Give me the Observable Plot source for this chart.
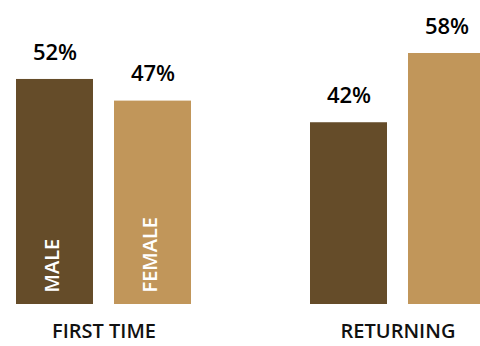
<!DOCTYPE html>
<html>
<head>
<meta charset="utf-8">
<script src="https://cdn.jsdelivr.net/npm/d3@7"></script>
<script src="https://cdn.jsdelivr.net/npm/@observablehq/plot@0.6"></script>
<style>
  html, body { margin: 0; padding: 0; background: #fff; overflow: hidden; }
</style>
</head>
<body>
<div id="chart"></div>
<script>
const groups = ["FIRST TIME", "RETURNING"];
const genders = ["MALE", "FEMALE"];
const barGroups = ["FIRST TIME", "FIRST TIME", "RETURNING", "RETURNING"];
const barGenders = ["MALE", "FEMALE", "MALE", "FEMALE"];
const values = [52, 47, 42, 58];
const innerLabels = ["MALE", "FEMALE", "", ""];
const colors = ["#654c29", "#c1965a"];

const data = values.map((v, i) => ({
  group: barGroups[i],
  gender: barGenders[i],
  value: v,
  label: v + "%",
  inner: innerLabels[i]
}));

const chart = Plot.plot({
  width: 480,
  height: 346,
  marginLeft: 15,
  marginRight: 0,
  marginTop: 0,
  marginBottom: 42,
  style: { fontFamily: "'Open Sans', sans-serif", background: "#fff" },
  fx: { domain: groups, range: [15, 486], paddingInner: 0.398, paddingOuter: 0, axis: null, label: null },
  x: { domain: genders, paddingInner: 0.2121, paddingOuter: 0, axis: null, label: null },
  y: { domain: [0, 58], range: [304, 53], axis: null },
  color: { domain: genders, range: colors },
  marks: [
    Plot.barY(data, { fx: "group", x: "gender", y: "value", fill: "gender" }),
    Plot.text(data, { fx: "group", x: "gender", y: "value", text: "label", dy: -27, fontSize: 22, fontWeight: 600, fill: "#000" }),
    Plot.text(data.filter(d => d.inner), { fx: "group", x: "gender", y: 0, text: "inner", rotate: -90, textAnchor: "start", dy: -12, dx: -2, fontSize: 20, fontWeight: 600, fill: "#fff" }),
    Plot.text(groups, { fx: d => d, text: d => d, frameAnchor: "bottom", dy: 33, fontSize: 20, fontWeight: 600, fill: "#111" })
  ]
});
document.getElementById("chart").appendChild(chart);
</script>
</body>
</html>
